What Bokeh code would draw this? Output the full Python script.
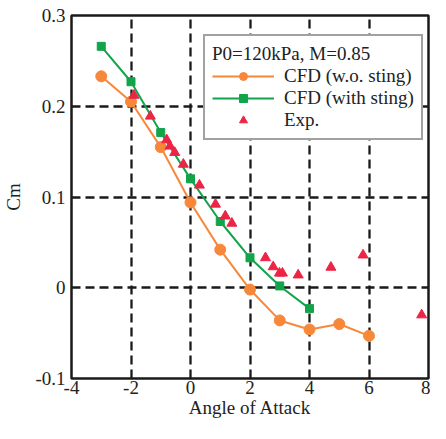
from bokeh.plotting import figure
from bokeh.models import Range1d, FixedTicker, Legend, LegendItem
from bokeh.embed import file_html
from bokeh.resources import INLINE

# Data
aoa_cfd = [-3, -2, -1, 0, 1, 2, 3, 4, 5, 6]
cm_cfd = [0.233, 0.205, 0.155, 0.094, 0.042, -0.002, -0.036, -0.046, -0.040, -0.053]

aoa_sting = [-3, -2, -1, 0, 1, 2, 3, 4]
cm_sting = [0.266, 0.227, 0.171, 0.120, 0.073, 0.033, 0.002, -0.023]

aoa_exp = [-1.9, -1.35, -0.8, -0.69, -0.53, -0.24, 0.3, 0.84, 1.17, 1.39,
           2.52, 2.78, 2.99, 3.09, 3.62, 4.72, 5.8, 7.77]
cm_exp = [0.212, 0.189, 0.163, 0.156, 0.149, 0.136, 0.113, 0.092, 0.079, 0.071,
          0.033, 0.023, 0.016, 0.016, 0.014, 0.0225, 0.036, -0.030]

x_ticks = [-4, -2, 0, 2, 4, 6, 8]
x_tick_labels = {-4: "-4", -2: "-2", 0: "0", 2: "2", 4: "4", 6: "6", 8: "8"}
y_ticks = [-0.1, 0, 0.1, 0.2, 0.3]
y_tick_labels = {-0.1: "-0.1", 0: "0", 0.1: "0.1", 0.2: "0.2", 0.3: "0.3"}

ORANGE = "#F7883A"
GREEN = "#12A44B"
RED = "#EC2445"
FONT = "'Liberation Serif', 'Times New Roman', serif"

p = figure(width=430, height=423, output_backend="svg", toolbar_location=None,
           x_range=Range1d(-4, 8), y_range=Range1d(-0.1, 0.3),
           min_border_left=66, min_border_right=2, min_border_top=15, min_border_bottom=45)

p.outline_line_color = "#1a1a1a"
p.outline_line_width = 2.5

for ax in (p.xaxis[0], p.yaxis[0]):
    ax.axis_line_color = None
    ax.major_tick_line_color = None
    ax.minor_tick_line_color = None
    ax.major_tick_out = 0
    ax.major_tick_in = 0
    ax.major_label_text_font = FONT
    ax.major_label_text_font_size = "19px"
    ax.major_label_text_color = "#222222"
    ax.axis_label_text_font = FONT
    ax.axis_label_text_font_size = "19px"
    ax.axis_label_text_font_style = "normal"
    ax.axis_label_text_color = "#222222"

p.xaxis.ticker = FixedTicker(ticks=x_ticks)
p.yaxis.ticker = FixedTicker(ticks=y_ticks)
p.xaxis.major_label_overrides = x_tick_labels
p.yaxis.major_label_overrides = y_tick_labels
p.xaxis.major_label_standoff = 2
p.yaxis.major_label_standoff = 6
p.xaxis.axis_label = "Angle of Attack"
p.yaxis.axis_label = "Cm"
p.xaxis.axis_label_standoff = 0
p.yaxis.axis_label_standoff = 8

for g in (p.xgrid[0], p.ygrid[0]):
    g.grid_line_color = "#1a1a1a"
    g.grid_line_width = 2.3
    g.grid_line_dash = "9 5"

l1 = p.line(aoa_cfd, cm_cfd, line_color=ORANGE, line_width=2)
s1 = p.scatter(aoa_cfd, cm_cfd, marker="circle", size=11, fill_color=ORANGE, line_color=ORANGE)
l2 = p.line(aoa_sting, cm_sting, line_color=GREEN, line_width=2)
s2 = p.scatter(aoa_sting, cm_sting, marker="square", size=8, fill_color=GREEN, line_color=GREEN)
s3 = p.scatter(aoa_exp, cm_exp, marker="triangle", size=10, fill_color=RED, line_color=RED)

legend = Legend(items=[
    LegendItem(label="CFD (w.o. sting)", renderers=[l1, s1]),
    LegendItem(label="CFD (with sting)", renderers=[l2, s2]),
    LegendItem(label="Exp.", renderers=[s3]),
], location=(132, 238))
legend.title = "P0=120kPa, M=0.85"
legend.title_text_font = FONT
legend.title_text_font_size = "19px"
legend.title_text_font_style = "normal"
legend.title_text_color = "#222222"
legend.title_standoff = 0
legend.label_text_font = FONT
legend.label_text_font_size = "19px"
legend.label_text_color = "#222222"
legend.label_standoff = 10
legend.glyph_width = 62
legend.glyph_height = 20
legend.label_height = 20
legend.spacing = 0
legend.padding = 7
legend.margin = 0
legend.border_line_color = "#444444"
legend.border_line_width = 2
legend.background_fill_color = "white"
legend.background_fill_alpha = 1
p.add_layout(legend, "center")

open("out.html", "w").write(file_html(p, INLINE))
